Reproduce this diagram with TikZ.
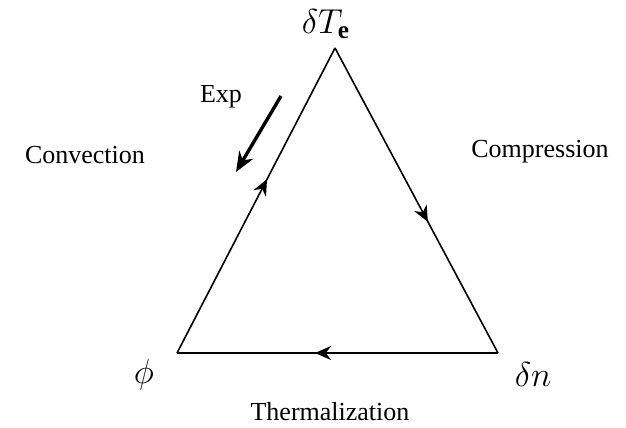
\documentclass[tikz,border=0pt]{standalone}
\usepackage{fontspec}
\setmainfont{Liberation Serif}
\usetikzlibrary{arrows.meta, decorations.markings}

\begin{document}
\begin{tikzpicture}
  [x=0.5pt, y=-0.5pt,
   corner/.style={inner sep=0pt, font=\fontsize{18}{21}\selectfont},
   label/.style={inner sep=0pt, font=\fontsize{13}{15}\selectfont},
   side/.style={line width=0.8pt, draw=black,
     decoration={markings, mark=at position 0.57 with {\arrow{Stealth[length=8pt, width=7pt]}}},
     postaction={decorate}},
   push/.style={line width=1.7pt, -{Stealth[length=10pt, width=8pt]}}]

  \useasboundingbox (0,0) rectangle (626,428);

  % Vertices
  \coordinate (te) at (335,48);
  \coordinate (phi) at (177,353);
  \coordinate (dn) at (498,353);

  % Vertex labels
  \node[corner] (lte) at (326,24) {$\delta T_{\mathbf{e}}$};
  \node[corner] (lphi) at (144,375) {$\phi$};
  \node[corner] (ldn) at (533,374) {$\delta n$};

  % Sides of the cycle
  \foreach \from/\to in {phi/te, te/dn, dn/phi}
    \draw[side] (\from) -- (\to);

  % Process labels
  \node[label] (conv) at (85,155) {Convection};
  \node[label] (comp) at (540,152) {Compression};
  \node[label] (therm) at (330,412) {Thermalization};

  % Exp arrow
  \node[label] (exp) at (221,97) {Exp};
  \coordinate (ea) at (281,96);
  \coordinate (eb) at (236,172);
  \draw[push] (ea) -- (eb);
\end{tikzpicture}
\end{document}
